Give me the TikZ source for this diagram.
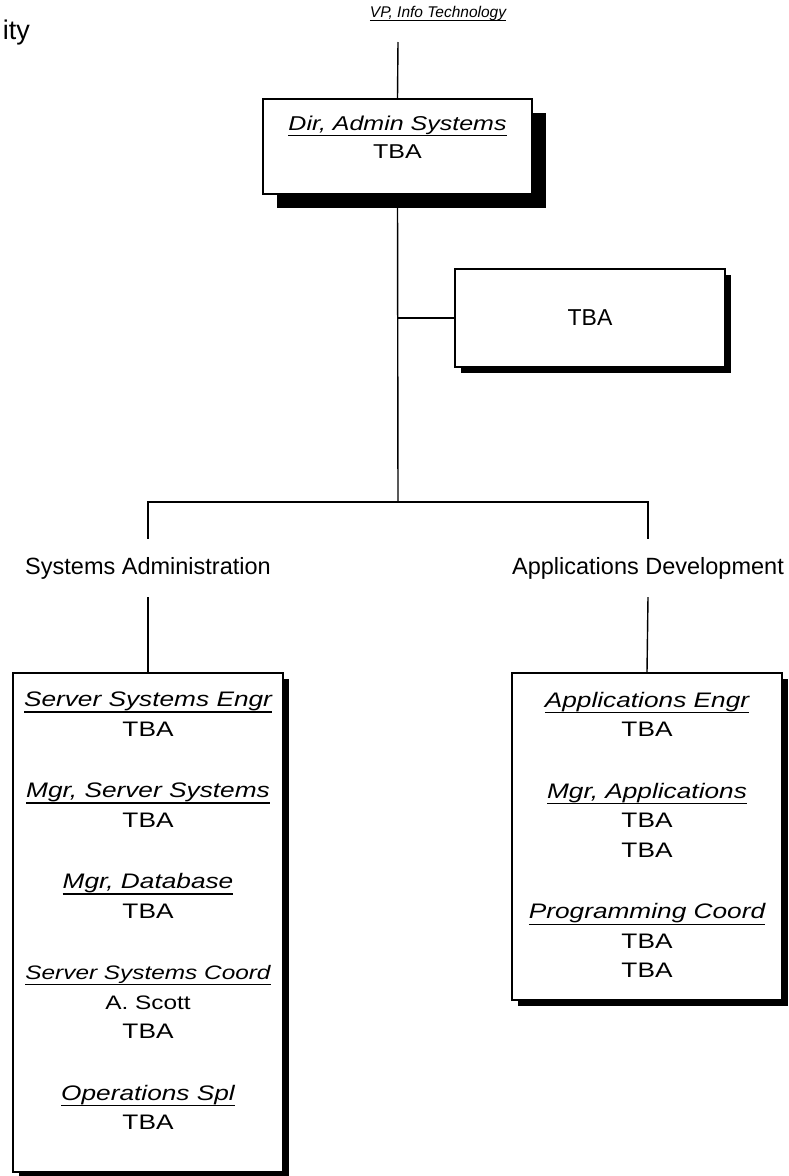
\documentclass[tikz,border=0pt]{standalone}
\usepackage{fontspec}
\setmainfont{Liberation Sans}
\newfontfamily\boxfont[FakeStretch=1.25]{Liberation Sans}
\usetikzlibrary{shadows}
\newcommand\posttitle[1]{\setbox0\hbox{\itshape #1}\leavevmode\rlap{\rule[-.28em]{\wd0}{.06em}}\box0}
\begin{document}
\begin{tikzpicture}[x=1pt,y=-1pt]
\tikzstyle{every node}+=[inner sep=0pt]
\tikzstyle{orgbox}=[draw=black, line width=1.3pt, fill=white]
\tikzstyle{smallshade}=[drop shadow={shadow xshift=6pt, shadow yshift=-6pt, fill=black, opacity=1}]
\tikzstyle{bigshade}=[drop shadow={shadow xshift=14pt, shadow yshift=-14pt, fill=black, opacity=1}]
\tikzstyle{boxtext}=[anchor=north, align=center, font=\boxfont\fontsize{21}{29.5}\selectfont]
\tikzstyle{labeltext}=[align=center, font=\fontsize{23.5}{28}\selectfont]
\tikzstyle{conn}=[draw=black, line width=1.4pt]
\useasboundingbox (0,0) rectangle (789,1176);
\node [anchor=base east, font=\fontsize{27}{32}\selectfont] (ity) at (30,39) {ity};
\node [anchor=base, font=\fontsize{15.5}{19}\selectfont] (vp) at (438,17) {\posttitle{VP, Info Technology}};
\coordinate (vpfoot) at (398,42);
\node [orgbox, bigshade, minimum width=269pt, minimum height=95pt] (dir) at (397.5,146.5) {};
\node [boxtext, font=\boxfont\fontsize{20}{28}\selectfont] (dirtext) at (397.5,116) {\posttitle{Dir, Admin Systems}\\TBA};
\node [orgbox, smallshade, minimum width=270pt, minimum height=98pt, font=\fontsize{23}{28}\selectfont] (side) at (590,318) {TBA};
\coordinate (split) at (398,502);
\node [labeltext, minimum height=58pt] (sysadm) at (148,568) {Systems Administration};
\node [labeltext, minimum height=58pt] (appdev) at (648,568) {Applications Development};
\node [orgbox, smallshade, minimum width=270pt, minimum height=499pt] (sysbox) at (148,922.5) {};
\node [orgbox, smallshade, minimum width=270pt, minimum height=327pt] (appbox) at (647,836.5) {};
\node [boxtext] (systext) at (148,692) {\posttitle{Server Systems Engr}\\TBA\\[32pt]
  \posttitle{Mgr, Server Systems}\\TBA\\[32pt]
  \posttitle{Mgr, Database}\\TBA\\[32pt]
  {\fontsize{19.5}{27}\selectfont\posttitle{Server Systems Coord}}\\{\fontsize{19.5}{27}\selectfont A. Scott}\\TBA\\[32pt]
  \posttitle{Operations Spl}\\TBA};
\node [boxtext] (apptext) at (647,692) {\posttitle{Applications Engr}\\TBA\\[32pt]
  \posttitle{Mgr, Applications}\\TBA\\TBA\\[32pt]
  \posttitle{Programming Coord}\\TBA\\TBA};
\draw [conn] (vpfoot) -- (dir.north);
\draw [conn] (dir.south) -- (split);
\draw [conn] (side.west) -- (side.west -| split);
\draw [conn] (sysadm.north) |- (split) -| (appdev.north);
\draw [conn] (sysadm.south) -- (sysbox.north);
\draw [conn] (appdev.south) -- (appbox.north);
\end{tikzpicture}
\end{document}
